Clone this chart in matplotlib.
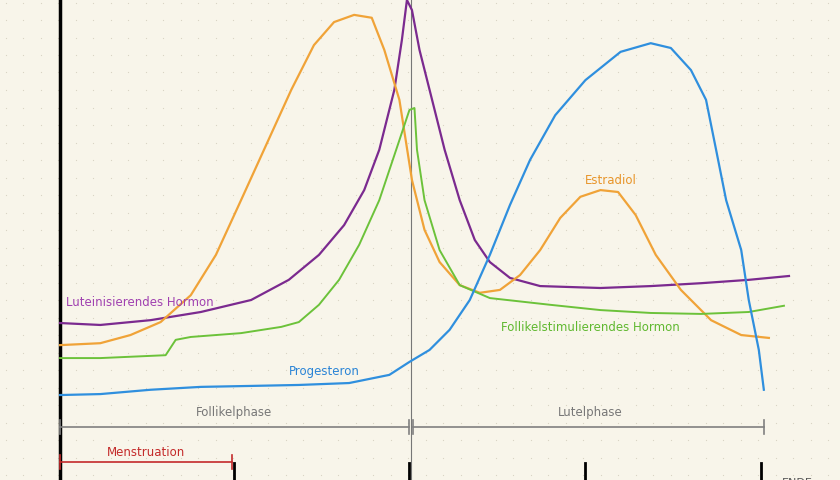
import numpy as np
import matplotlib.pyplot as plt

# cycle day vs. relative hormone level (%)
lh_day = [0, 1.6, 3.6, 5.6, 7.6, 9.1, 10.3, 11.3, 12.1, 12.7, 13.3, 13.6, 13.8, 14.0, 14.3, 14.7, 15.3, 15.9,
          16.5, 17.1, 17.9, 19.1, 21.5, 23.5, 25.5, 27.4, 28.6, 29.0]
lh_val = [32.7, 32.3, 33.3, 35, 37.5, 41.7, 46.9, 53.1, 60.4, 68.8, 81.3, 91.7, 100, 97.9, 89.6, 81.3, 68.8, 58.3,
          50, 45.4, 42.1, 40.4, 40, 40.4, 41, 41.7, 42.3, 42.5]

e2_day = [0, 1.6, 2.8, 4.0, 5.2, 6.2, 7.2, 8.2, 9.2, 10.1, 10.9, 11.7, 12.4, 12.9, 13.5, 14.0, 14.5, 15.1, 15.9,
          16.7, 17.5, 18.3, 19.1, 19.9, 20.7, 21.5, 22.2, 22.9, 23.7, 24.7, 25.9, 27.1, 28.2]
e2_val = [28.1, 28.5, 30.2, 32.9, 38.5, 46.9, 58.3, 69.8, 81.3, 90.6, 95.4, 96.9, 96.3, 89.6, 79.2, 62.5, 52.1,
          45.4, 40.6, 39, 39.6, 42.7, 47.9, 54.6, 59, 60.4, 60, 55.2, 46.9, 39.6, 33.3, 30.2, 29.6]

fsh_day = [0, 1.6, 4.2, 4.6, 5.2, 7.2, 8.8, 9.5, 10.3, 11.1, 11.9, 12.7, 13.5, 13.9, 14.1, 14.2, 14.5, 15.1, 15.9,
           17.1, 19.5, 21.5, 23.5, 25.5, 27.4, 28.8]
fsh_val = [25.4, 25.4, 26, 29.2, 29.8, 30.6, 31.9, 32.9, 36.5, 41.7, 49, 58.3, 70.8, 77.1, 77.5, 68.8, 58.3, 47.9,
           40.6, 37.9, 36.5, 35.4, 34.8, 34.6, 35, 36.3]

p4_day = [0, 1.6, 3.6, 5.6, 7.6, 9.5, 11.5, 13.1, 13.9, 14.7, 15.5, 16.3, 17.1, 17.9, 18.7, 19.7, 20.9, 22.3,
          23.5, 24.3, 25.1, 25.7, 26.1, 26.5, 27.1, 27.4, 27.8, 28.0]
p4_val = [17.7, 17.9, 18.8, 19.4, 19.6, 19.8, 20.2, 21.9, 24.6, 27.1, 31.3, 37.5, 46.9, 57.3, 66.7, 76, 83.3, 89.2,
          91, 90, 85.4, 79.2, 68.8, 58.3, 47.9, 37.5, 27.1, 18.8]

tick_days = [7, 14, 21, 28]

bg = '#f8f5ea'
fig = plt.figure(figsize=(8.4, 4.8), dpi=100, facecolor=bg)
ax = fig.add_axes([0, 0, 1, 1], facecolor=bg)
ax.set_xlim(-2.39, 31.03)
ax.set_ylim(0, 100)
ax.axis('off')

# dot grid of the paper
gx, gy = np.meshgrid(np.arange(6, 840, 17.5), np.arange(5, 480, 17.5))
ax.scatter(-2.39 + gx.ravel() / 25.14, gy.ravel() / 4.8, s=0.8, color='#d8d3c4', zorder=0, linewidths=0)

ax.axvline(0, color='black', lw=2.5)
ax.axvline(13.96, color='#777777', lw=0.8)
for d in tick_days:
    ax.plot([d - 0.1, d - 0.1], [0, 3.5], color='black', lw=2)

ax.plot(lh_day, lh_val, color='#7b2a8f', lw=1.6, solid_joinstyle='round')
ax.plot(e2_day, e2_val, color='#f0a338', lw=1.6, solid_joinstyle='round')
ax.plot(fsh_day, fsh_val, color='#6cc23a', lw=1.4, solid_joinstyle='round')
ax.plot(p4_day, p4_val, color='#2f8fde', lw=1.6, solid_joinstyle='round')

ax.text(0.25, 36.9, 'Luteinisierendes Hormon', color='#a040b0', fontsize=8.5, va='center')
ax.text(21.9, 62.5, 'Estradiol', color='#e8952a', fontsize=8.5, va='center', ha='center')
ax.text(21.1, 31.7, 'Follikelstimulierendes Hormon', color='#5fb82f', fontsize=8.5, va='center', ha='center')
ax.text(10.5, 22.7, 'Progesteron', color='#2a84d6', fontsize=8.5, va='center', ha='center')

gray = '#808080'
ax.plot([0, 13.9], [11, 11], color=gray, lw=1.2)
ax.plot([14.05, 28.0], [11, 11], color=gray, lw=1.2)
for d in [0, 13.9, 14.05, 28.0]:
    ax.plot([d, d], [9.5, 12.5], color=gray, lw=1.2)
ax.text(6.9, 13.3, 'Follikelphase', color='#777777', fontsize=8.5, ha='center')
ax.text(21.1, 13.3, 'Lutelphase', color='#777777', fontsize=8.5, ha='center')

red = '#c42a2a'
ax.plot([0, 6.85], [3.75, 3.75], color=red, lw=1.2)
for d in [0, 6.85]:
    ax.plot([d, d], [2.3, 5.2], color=red, lw=1.2)
ax.text(3.4, 4.9, 'Menstruation', color=red, fontsize=8.5, ha='center')
ax.text(28.7, -1.2, 'ENDE', color='#555555', fontsize=8)

fig.savefig('out.png', dpi=100, facecolor=bg)
